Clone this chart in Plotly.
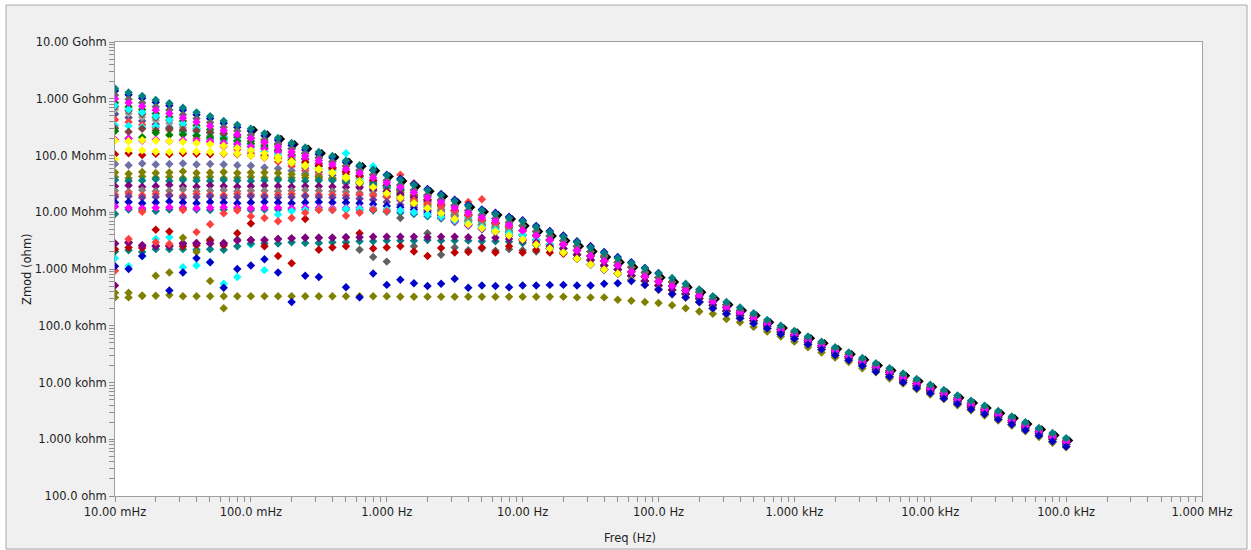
import plotly.graph_objects as go

# ---------------- DATA ----------------
# Frequencies of the sweep (Hz), 10 points per decade, 10 mHz .. 100 kHz
freq = [0.01, 0.01259, 0.01585, 0.01995, 0.02512, 0.03162, 0.03981, 0.05012, 0.0631, 0.07943,
        0.1, 0.1259, 0.1585, 0.1995, 0.2512, 0.3162, 0.3981, 0.5012, 0.631, 0.7943,
        1.0, 1.259, 1.585, 1.995, 2.512, 3.162, 3.981, 5.012, 6.31, 7.943,
        10.0, 12.59, 15.85, 19.95, 25.12, 31.62, 39.81, 50.12, 63.1, 79.43,
        100.0, 125.9, 158.5, 199.5, 251.2, 316.2, 398.1, 501.2, 631.0, 794.3,
        1000.0, 1259.0, 1585.0, 1995.0, 2512.0, 3162.0, 3981.0, 5012.0, 6310.0, 7943.0,
        10000.0, 12590.0, 15850.0, 19950.0, 25120.0, 31620.0, 39810.0, 50120.0, 63100.0, 79430.0,
        100000.0]
# black curve was measured on a slightly shifted grid, 0.105 Hz .. 105 kHz
freq_black = [0.105, 0.1322, 0.1664, 0.2095, 0.2638, 0.332, 0.418, 0.5263, 0.6626, 0.834,
              1.05, 1.322, 1.664, 2.095, 2.638, 3.32, 4.18, 5.263, 6.626, 8.34,
              10.5, 13.22, 16.64, 20.95, 26.38, 33.2, 41.8, 52.63, 66.26, 83.4,
              105.0, 132.2, 166.4, 209.5, 263.8, 332.0, 418.0, 526.3, 662.6, 834.0,
              1050.0, 1322.0, 1664.0, 2095.0, 2638.0, 3320.0, 4180.0, 5263.0, 6626.0, 8340.0,
              10500.0, 13220.0, 16640.0, 20950.0, 26380.0, 33200.0, 41800.0, 52630.0, 66260.0, 83400.0,
              105000.0]

# |Z| values are given as log10(|Z| / ohm).
# High-frequency parts (10 Hz .. 100 kHz) of the converging curves
tail_a = [6.84, 6.74, 6.65, 6.57, 6.47, 6.38, 6.28, 6.19, 6.10, 6.01, 5.92, 5.84, 5.74, 5.64, 5.52, 5.42, 5.32, 5.22, 5.10, 5.00,
          4.91, 4.81, 4.72, 4.62, 4.53, 4.43, 4.34, 4.25, 4.16, 4.06, 3.96, 3.87, 3.77, 3.68, 3.59, 3.50, 3.40, 3.30, 3.20, 3.11, 3.02]
tail_b = [6.76, 6.66, 6.58, 6.50, 6.40, 6.31, 6.21, 6.12, 6.03, 5.94, 5.85, 5.77, 5.68, 5.59, 5.47, 5.37, 5.27, 5.18, 5.06, 4.96,
          4.88, 4.78, 4.69, 4.59, 4.50, 4.40, 4.30, 4.21, 4.12, 4.02, 3.92, 3.83, 3.73, 3.64, 3.55, 3.46, 3.37, 3.27, 3.17, 3.07, 2.98]
tail_c = [6.68, 6.59, 6.51, 6.43, 6.33, 6.23, 6.14, 6.06, 5.95, 5.87, 5.78, 5.70, 5.62, 5.53, 5.42, 5.32, 5.23, 5.13, 5.03, 4.93,
          4.84, 4.74, 4.65, 4.55, 4.46, 4.36, 4.27, 4.18, 4.08, 3.98, 3.89, 3.80, 3.70, 3.61, 3.52, 3.43, 3.33, 3.23, 3.13, 3.04, 2.95]
tail_d = [6.60, 6.51, 6.43, 6.36, 6.25, 6.16, 6.06, 5.99, 5.88, 5.79, 5.71, 5.63, 5.56, 5.48, 5.36, 5.26, 5.18, 5.09, 4.99, 4.89,
          4.81, 4.71, 4.62, 4.52, 4.43, 4.33, 4.23, 4.14, 4.04, 3.94, 3.85, 3.76, 3.66, 3.57, 3.48, 3.39, 3.30, 3.20, 3.10, 3.00, 2.91]
tail_e = [6.52, 6.43, 6.36, 6.29, 6.18, 6.08, 5.99, 5.92, 5.80, 5.72, 5.64, 5.56, 5.50, 5.42, 5.31, 5.21, 5.13, 5.04, 4.95, 4.85,
          4.77, 4.67, 4.58, 4.48, 4.39, 4.29, 4.19, 4.10, 4.00, 3.90, 3.81, 3.72, 3.62, 3.53, 3.44, 3.35, 3.26, 3.16, 3.06, 2.96, 2.87]

# Low-frequency parts (10 mHz .. 7.9 Hz) of the upper family of curves
teal_a_lo = [9.18, 9.11, 9.05, 8.98, 8.92, 8.84, 8.76, 8.69, 8.61, 8.54, 8.47, 8.39, 8.31, 8.22, 8.14,
             8.06, 7.99, 7.91, 7.83, 7.75, 7.65, 7.57, 7.48, 7.39, 7.30, 7.20, 7.11, 7.03, 6.97, 6.90]
blue_a_lo = [9.14, 9.07, 9.01, 8.94, 8.88, 8.80, 8.72, 8.65, 8.57, 8.50, 8.43, 8.35, 8.27, 8.18, 8.10,
             8.02, 7.96, 7.88, 7.81, 7.74, 7.66, 7.59, 7.50, 7.41, 7.32, 7.22, 7.13, 7.05, 6.99, 6.92]
blue_a_mid = [6.86, 6.76, 6.67, 6.59, 6.49, 6.40, 6.30, 6.21, 6.12, 6.02, 5.93]
gray_a_lo = [9.06, 8.99, 8.93, 8.86, 8.80, 8.72, 8.65, 8.58, 8.50, 8.43, 8.36, 8.28, 8.21, 8.12, 8.04,
             7.96, 7.89, 7.81, 7.74, 7.66, 7.56, 7.48, 7.39, 7.30, 7.22, 7.12, 7.03, 6.95, 6.89, 6.82]
magenta_a_lo = [9.00, 8.93, 8.87, 8.80, 8.74, 8.66, 8.59, 8.52, 8.44, 8.37, 8.30, 8.23, 8.15, 8.06, 7.99,
                7.91, 7.84, 7.76, 7.69, 7.61, 7.52, 7.44, 7.35, 7.26, 7.18, 7.08, 6.99, 6.91, 6.85, 6.78]
green_a_lo = [8.93, 8.86, 8.81, 8.74, 8.68, 8.61, 8.53, 8.46, 8.39, 8.32, 8.25, 8.18, 8.10, 8.01, 7.94,
              7.86, 7.79, 7.72, 7.64, 7.56, 7.47, 7.39, 7.30, 7.22, 7.13, 7.03, 6.95, 6.87, 6.81, 6.75]
cyan_a_lo = [8.88, 8.81, 8.76, 8.69, 8.63, 8.56, 8.48, 8.41, 8.34, 8.27, 8.20, 8.13, 8.05, 7.96, 7.89,
             7.81, 7.74, 8.04, 7.59, 7.81, 7.42, 7.34, 7.25, 7.17, 7.08, 6.98, 6.90, 6.82, 6.76, 6.70]
brown_a_lo = [8.86, 8.79, 8.73, 8.67, 8.62, 8.54, 8.47, 8.40, 8.32, 8.26, 8.20, 8.12, 8.05, 7.96, 7.88,
              7.81, 7.75, 7.67, 7.60, 7.52, 7.42, 7.35, 7.27, 7.18, 7.10, 7.00, 6.91, 6.84, 6.79, 6.72]
silver_lo = [8.81, 8.74, 8.68, 8.62, 8.57, 8.49, 8.42, 8.35, 8.27, 8.21, 8.15, 8.07, 8.00, 7.91, 7.83,
             7.76, 7.70, 7.62, 7.55, 7.47, 7.37, 7.30, 7.22, 7.13, 7.05, 6.95, 6.86, 6.79, 6.74, 6.67]
slate_a_lo = [8.73, 8.67, 8.61, 8.55, 8.50, 8.42, 8.35, 8.29, 8.21, 8.15, 8.09, 8.01, 7.94, 7.86, 7.78,
              7.71, 7.65, 7.57, 7.50, 7.43, 7.33, 7.26, 7.18, 7.09, 7.01, 6.92, 6.83, 6.76, 6.71, 6.64]
red_a_lo = [8.63, 8.59, 8.54, 8.49, 8.45, 8.37, 8.30, 8.24, 8.16, 8.10, 8.04, 7.96, 7.89, 7.81, 7.73,
            7.66, 7.60, 7.52, 7.45, 7.38, 7.28, 7.21, 7.13, 7.04, 6.96, 6.87, 6.78, 6.71, 6.66, 6.59]
cyan_b_lo = [8.53, 8.52, 8.50, 8.51, 8.47, 8.40, 8.36, 8.31, 8.25, 8.20, 8.15, 8.07, 8.00, 7.91, 7.83,
             7.76, 7.70, 7.62, 7.55, 7.47, 7.37, 7.30, 7.22, 7.13, 7.05, 6.95, 6.86, 6.79, 6.74, 6.67]
brown_b_lo = [8.48, 8.42, 8.47, 8.44, 8.47, 8.45, 8.44, 8.41, 8.38, 8.35, 8.31, 8.25, 8.19, 8.12, 8.04,
              7.96, 7.89, 7.81, 7.74, 7.66, 7.56, 7.48, 7.39, 7.30, 7.22, 7.12, 7.03, 6.95, 6.89, 6.82]
green_b_lo = [8.43, 8.30, 8.32, 8.40, 8.36, 8.37, 8.35, 8.32, 8.29, 8.25, 8.21, 8.15, 8.09, 8.01, 7.94,
              7.86, 7.79, 7.72, 7.64, 7.56, 7.47, 7.39, 7.30, 7.22, 7.13, 7.03, 6.95, 6.87, 6.81, 6.75]
yellow_a_lo = [8.26, 8.25, 8.27, 8.26, 8.25, 8.24, 8.22, 8.20, 8.17, 8.13, 8.09, 8.04, 7.98, 7.90, 7.83,
               7.76, 7.69, 7.60, 7.52, 7.44, 7.33, 7.25, 7.16, 7.07, 6.98, 6.88, 6.79, 6.72, 6.66, 6.59]
magenta_b_lo = [8.28, 8.30, 8.26, 8.28, 8.25, 8.27, 8.26, 8.25, 8.22, 8.20, 8.16, 8.12, 8.07, 7.99, 7.93,
                7.86, 7.79, 7.72, 7.64, 7.56, 7.47, 7.39, 7.30, 7.22, 7.13, 7.03, 6.95, 6.87, 6.81, 6.75]
darkred_a_lo = [8.02, 8.04, 8.01, 8.03, 8.02, 8.04, 8.03, 8.02, 8.03, 8.02, 8.00, 7.99, 7.96, 7.92, 7.88,
                7.82, 7.77, 7.71, 7.64, 7.56, 7.47, 7.39, 7.30, 7.22, 7.13, 7.03, 6.95, 6.87, 6.81, 6.75]
yellow_b_lo = [7.93, 8.10, 8.09, 8.07, 8.06, 8.08, 8.07, 8.06, 8.04, 8.03, 8.00, 7.97, 7.93, 7.87, 7.81,
               7.75, 7.70, 7.62, 7.55, 7.47, 7.37, 7.30, 7.22, 7.13, 7.05, 6.95, 6.86, 6.79, 6.74, 6.67]
slate_b_lo = [7.85, 7.83, 7.86, 7.84, 7.85, 7.86, 7.84, 7.85, 7.84, 7.83, 7.82, 7.79, 7.77, 7.73, 7.68,
              7.63, 7.58, 7.51, 7.45, 7.38, 7.28, 7.21, 7.13, 7.04, 6.96, 6.87, 6.78, 6.71, 6.66, 6.59]
olive_a_lo = [7.70, 7.68, 7.71, 7.69, 7.70, 7.72, 7.69, 7.70, 7.71, 7.69, 7.70, 7.70, 7.69, 7.67, 7.65,
              7.62, 7.60, 7.55, 7.51, 7.45, 7.36, 7.30, 7.22, 7.13, 7.05, 6.95, 6.86, 6.79, 6.74, 6.67]
olive_b_lo = [7.62, 7.60, 7.63, 7.61, 7.62, 7.60, 7.61, 7.62, 7.60, 7.61, 7.62, 7.61, 7.60, 7.61, 7.61,
              7.59, 7.57, 7.55, 7.52, 7.48, 7.43, 7.36, 7.29, 7.22, 7.13, 7.03, 6.95, 6.87, 6.81, 6.75]
teal_b_lo = [7.57, 7.55, 7.56, 7.58, 7.55, 7.57, 7.56, 7.55, 7.57, 7.56, 7.55, 7.56, 7.57, 7.56, 7.55,
             7.56, 7.56, 7.54, 7.52, 7.50, 7.46, 7.41, 7.35, 7.28, 7.21, 7.12, 7.03, 6.95, 6.89, 6.82]
purple_a_lo = [7.46, 7.47, 7.45, 7.46, 7.48, 7.46, 7.45, 7.47, 7.46, 7.45, 7.46, 7.47, 7.46, 7.45, 7.46,
               7.46, 7.45, 7.44, 7.43, 7.40, 7.37, 7.32, 7.26, 7.20, 7.12, 7.03, 6.95, 6.87, 6.81, 6.75]
gray_b_lo = [7.38, 7.36, 7.39, 7.37, 7.38, 7.40, 7.37, 7.38, 7.39, 7.37, 7.38, 7.38, 7.37, 7.38, 7.39,
             7.38, 7.37, 7.36, 7.34, 7.32, 7.27, 7.25, 7.18, 7.11, 7.04, 6.95, 6.86, 6.79, 6.74, 6.67]
red_b_lo = [7.31, 7.33, 7.30, 7.32, 7.31, 7.29, 7.32, 7.31, 7.30, 7.32, 7.31, 7.30, 7.31, 7.32, 7.30,
            7.31, 7.31, 7.30, 7.31, 7.29, 7.27, 7.24, 7.21, 7.16, 7.10, 7.02, 6.95, 6.87, 6.81, 6.75]
purple_b_lo = [7.27, 7.28, 7.26, 7.27, 7.29, 7.26, 7.27, 7.28, 7.26, 7.27, 7.28, 7.27, 7.26, 7.27, 7.28,
               7.27, 7.26, 7.25, 7.24, 7.22, 7.18, 7.13, 7.09, 7.02, 6.95, 6.87, 6.78, 6.71, 6.66, 6.59]
blue_b_lo = [7.17, 7.18, 7.16, 7.17, 7.19, 7.17, 7.16, 7.18, 7.17, 7.16, 7.17, 7.18, 7.17, 7.16, 7.17,
             7.18, 7.17, 7.17, 7.16, 7.14, 7.11, 7.09, 7.05, 6.99, 6.93, 6.85, 6.78, 6.71, 6.66, 6.59]
teal_c_lo = [6.97, 7.05, 7.04, 7.02, 7.05, 7.06, 7.05, 7.04, 7.05, 7.06, 7.04, 7.05, 7.05, 7.04, 7.05,
             7.05, 7.04, 7.05, 7.04, 7.03, 7.01, 6.99, 6.97, 6.93, 6.89, 6.83, 6.76, 6.70, 6.65, 6.58]
magenta_c_lo = [7.10, 7.08, 7.07, 7.08, 7.09, 7.08, 7.07, 7.08, 7.09, 7.08, 7.07, 7.08, 7.08, 7.07, 7.08,
                7.08, 7.07, 7.08, 7.08, 7.07, 7.05, 7.03, 7.00, 6.96, 6.91, 6.84, 6.77, 6.71, 6.66, 6.59]
black_lo = [8.45, 8.37, 8.29, 8.20, 8.12, 8.04, 7.97, 7.89, 7.81, 7.73,
            7.63, 7.55, 7.46, 7.37, 7.28, 7.18, 7.09, 7.01, 6.95, 6.88]

# Lower curves (resistive plateaus at low frequency)
purple_p = [6.45, 6.47, 6.41, 6.40, 6.40, 6.45, 6.45, 6.45, 6.45, 6.50, 6.51, 6.51, 6.53, 6.54, 6.55, 6.55, 6.55,
            6.56, 6.56, 6.57, 6.57, 6.57, 6.57, 6.56, 6.57, 6.57, 6.56, 6.55, 6.55, 6.53, 6.50, 6.47, 6.40]
teal_p = [6.31, 6.33, 6.30, 6.35, 6.35, 6.35, 6.34, 6.35, 6.34, 6.40, 6.45, 6.45, 6.45, 6.47, 6.46, 6.46, 6.47,
          6.47, 6.49, 6.49, 6.50, 6.50, 6.50, 6.51, 6.50, 6.50, 6.50, 6.49, 6.49, 6.48, 6.46, 6.42, 6.37]
darkred_p = [6.35, 6.38, 6.37, 6.69, 6.66, 6.40, 6.42, 6.50, 6.42, 6.63, 6.80, 6.40, 6.23, 6.10, 6.88, 6.34, 6.38,
             6.40, 6.63, 6.36, 6.38, 6.40, 6.31, 6.23, 6.37, 6.29, 6.30, 6.38, 6.29, 6.40, 6.29, 6.34, 6.29, 6.27]
gray_p = [6.45, 6.47, 6.41, 6.40, 6.40, 6.45, 6.45, 6.52, 6.45, 6.52, 6.51, 6.51, 6.53, 6.54, 6.55, 6.55,
          6.55, 6.56, 6.34, 6.21, 6.13, 6.90, 6.40, 6.63, 6.25, 6.38, 6.33, 6.36, 6.32, 6.35, 6.33, 6.31]
red_p = [5.97, 6.53, 7.01, 6.47, 6.44, 7.04, 6.65, 6.79, 6.98, 7.03, 6.93, 6.90, 6.84, 6.90, 6.99, 7.04, 7.04,
         6.94, 6.99, 7.05, 7.02, 7.66, 7.51, 7.30, 7.15, 7.12, 7.18, 7.23, 6.97, 6.90, 6.85, 6.74, 6.66, 6.58,
         6.48, 6.40, 6.24]
blue_p = [6.05, 6.00, 6.23, None, 5.62, 5.94, 6.19, 6.12, 5.67, 6.00, 6.06, 6.17, 5.94, 5.42, 5.88, 5.86, None,
          5.68, 5.50, 5.92, 5.72, 5.81, 5.75, 5.70, 5.74, 5.83, 5.67, 5.71, 5.70, 5.68, 5.71, 5.71, 5.72, 5.72,
          5.71, 5.71, 5.74, 5.75, 5.79]
cyan_p = [6.19, 6.05, 6.23, 6.53, 6.56, 6.03, 6.06, 6.12, 5.74, 5.86, 6.43, 5.98, 6.96, 7.02, 7.04, 7.05, 7.05,
          7.06, 7.06, 7.06, 7.05, 7.03, 7.00, 6.96, 6.92, 6.86, 6.80, 6.74, 6.69, 6.63]
purple_low = [5.71, 6.46, 6.42, 6.41, 6.41, 6.45, 6.46, 6.45, 6.46]
olive_p2 = [5.58, 5.58, 5.53, 5.88, 5.94, 6.55, 6.30, 5.79, 5.31]
olive_p = [5.50, 5.50, 5.53, 5.53, 5.54, 5.52, 5.52, 5.52, 5.52, 5.52, 5.52, 5.52, 5.52, 5.52, 5.52, 5.52,
           5.52, 5.52, 5.52, 5.52, 5.52, 5.51, 5.51, 5.51, 5.51, 5.51, 5.51, 5.51, 5.51, 5.51, 5.51, 5.51,
           5.51, 5.51, 5.50, 5.50, 5.50,
           5.46, 5.44, 5.42, 5.40, 5.36, 5.31, 5.25, 5.21, 5.12, 5.06, 4.98, 4.90, 4.81, 4.72, 4.62, 4.53,
           4.44, 4.36, 4.25, 4.18, 4.07, 3.98, 3.88, 3.79, 3.71, 3.60, 3.51, 3.42, 3.33, 3.24, 3.14, 3.04,
           2.94, 2.86]

# Axis tick labels
x_tick_vals = [0.01, 0.1, 1, 10, 100, 1e3, 1e4, 1e5, 1e6]
x_tick_text = ["10.00 mHz", "100.0 mHz", "1.000 Hz", "10.00 Hz", "100.0 Hz",
               "1.000 kHz", "10.00 kHz", "100.0 kHz", "1.000 MHz"]
y_tick_vals = [1e2, 1e3, 1e4, 1e5, 1e6, 1e7, 1e8, 1e9, 1e10]
y_tick_text = ["100.0 ohm", "1.000 kohm", "10.00 kohm", "100.0 kohm", "1.000 Mohm",
               "10.00 Mohm", "100.0 Mohm", "1.000 Gohm", "10.00 Gohm"]

# ---------------- SERIES (draw order) ----------------
series = [
    ("black", "#000000", freq_black, black_lo + tail_b),
    ("slate_a", "#505090", freq, slate_a_lo + tail_d),
    ("silver", "#A0A0A0", freq, silver_lo + tail_d),
    ("brown_a", "#804040", freq, brown_a_lo + tail_c),
    ("green_a", "#008000", freq, green_a_lo + tail_c),
    ("cyan_a", "#00FFFF", freq, cyan_a_lo + tail_d),
    ("red_a", "#FF4040", freq, red_a_lo + tail_e),
    ("cyan_b", "#00FFFF", freq, cyan_b_lo + tail_d),
    ("brown_b", "#804040", freq, brown_b_lo + tail_b),
    ("green_b", "#008000", freq, green_b_lo + tail_c),
    ("magenta_b", "#FF00FF", freq, magenta_b_lo + tail_c),
    ("darkred_a", "#C00000", freq, darkred_a_lo + tail_c),
    ("yellow_b", "#FFFF00", freq, yellow_b_lo + tail_d),
    ("slate_b", "#7070A8", freq, slate_b_lo + tail_e),
    ("olive_a", "#808000", freq, olive_a_lo + tail_d),
    ("olive_b", "#808000", freq, olive_b_lo + tail_c),
    ("teal_b", "#008080", freq, teal_b_lo + tail_b),
    ("purple_a", "#800080", freq, purple_a_lo + tail_c),
    ("gray_b", "#808080", freq, gray_b_lo + tail_d),
    ("red_b", "#FF4040", freq, red_b_lo + tail_c),
    ("purple_b", "#6A3D9A", freq, purple_b_lo + tail_e),
    ("blue_b", "#0000C8", freq, blue_b_lo + tail_e),
    ("teal_c", "#008080", freq, teal_c_lo + tail_e),
    ("magenta_c", "#FF00FF", freq, magenta_c_lo + tail_e),
    ("gray_p", "#606060", freq, gray_p + tail_e[2:]),
    ("purple_low", "#800080", freq, purple_low),
    ("cyan_p", "#00FFFF", freq, cyan_p + tail_d),
    ("teal_p", "#008080", freq, teal_p + tail_d[3:]),
    ("darkred_p", "#C00000", freq, darkred_p + tail_d[4:]),
    ("purple_p", "#800080", freq, purple_p + tail_d[3:]),
    ("red_p", "#FF4040", freq, red_p + tail_b[7:]),
    ("olive_p2", "#808000", freq, olive_p2),
    ("olive_p", "#808000", freq, olive_p),
    ("yellow_a", "#FFFF00", freq, yellow_a_lo + tail_e),
    ("blue_a", "#0000C8", freq, blue_a_lo + blue_a_mid + tail_c[11:]),
    ("gray_a", "#666666", freq, gray_a_lo + tail_b),
    ("magenta_a", "#FF00FF", freq, magenta_a_lo + tail_c),
    ("teal_a", "#008080", freq, teal_a_lo + tail_a),
    ("blue_p", "#0000C8", freq, blue_p + tail_e[9:]),
]

fig = go.Figure()
for name, color, fx, logz in series:
    zmod = [None if v is None else 10 ** v for v in logz]
    fig.add_trace(go.Scatter(
        x=fx[:len(zmod)], y=zmod, mode="markers", name=name,
        marker=dict(symbol="diamond", size=6.5, color=color, line=dict(width=0)),
        showlegend=False, hoverinfo="x+y"))

# minor tick positions (2..9 of every decade)
x_minor = [m * 10.0 ** e for e in range(-2, 6) for m in range(2, 10)]
y_minor = [m * 10.0 ** e for e in range(2, 10) for m in range(2, 10)]

font_family = "DejaVu Sans, Verdana, sans-serif"
W, H = 1251, 550
L, R, T, B = 115, 49, 42, 54
pw, ph = W - L - R, H - T - B

def px_x(p):
    return (p - L) / pw

def px_y(p):
    return (H - B - p) / ph

axis_common = dict(
    type="log", showgrid=False, zeroline=False, showline=True, linecolor="#A0A0A0",
    linewidth=1, mirror=True, ticks="outside", ticklen=5, tickcolor="#909090", tickwidth=1,
    tickfont=dict(family=font_family, size=11.5, color="#1E1E1E"),
)

frame_fill = "#F0F0F0"
fig.update_layout(
    width=W, height=H,
    margin=dict(l=L, r=R, t=T, b=B),
    paper_bgcolor=frame_fill, plot_bgcolor="#FFFFFF",
    showlegend=False,
    xaxis=dict(axis_common, range=[-2, 6], tickmode="array", tickvals=x_tick_vals, ticktext=x_tick_text,
               minor=dict(tickmode="array", tickvals=x_minor, ticks="outside", ticklen=5,
                          tickcolor="#909090", showgrid=False)),
    yaxis=dict(axis_common, range=[2, 10], tickmode="array", tickvals=y_tick_vals, ticktext=y_tick_text,
               minor=dict(tickmode="array", tickvals=y_minor, ticks="outside", ticklen=5,
                          tickcolor="#909090", showgrid=False)),
    shapes=[
        # white strips outside the window frame
        dict(type="rect", xref="paper", yref="paper", x0=px_x(-2), x1=px_x(1254), y0=px_y(5), y1=px_y(-2),
             fillcolor="#FFFFFF", line=dict(width=0)),
        dict(type="rect", xref="paper", yref="paper", x0=px_x(-2), x1=px_x(6), y0=px_y(552), y1=px_y(-2),
             fillcolor="#FFFFFF", line=dict(width=0)),
        dict(type="rect", xref="paper", yref="paper", x0=px_x(1247), x1=px_x(1254), y0=px_y(552), y1=px_y(-2),
             fillcolor="#FFFFFF", line=dict(width=0)),
        # frame line
        dict(type="rect", xref="paper", yref="paper", x0=px_x(6), x1=px_x(1247), y0=px_y(549), y1=px_y(5),
             fillcolor="rgba(0,0,0,0)", line=dict(color="#A8A8A8", width=1)),
    ],
    annotations=[
        dict(text="Zmod (ohm)", xref="paper", yref="paper", x=px_x(27), y=0.5, textangle=-90,
             showarrow=False, xanchor="center", yanchor="middle",
             font=dict(family=font_family, size=11.5, color="#1E1E1E")),
        dict(text="Freq (Hz)", xref="paper", yref="paper", x=px_x(630), y=px_y(538),
             showarrow=False, xanchor="center", yanchor="middle",
             font=dict(family=font_family, size=11.5, color="#1E1E1E")),
    ],
)

fig.write_html("out.html", config={"displayModeBar": False},
               post_script="document.body.style.margin='0px';")
